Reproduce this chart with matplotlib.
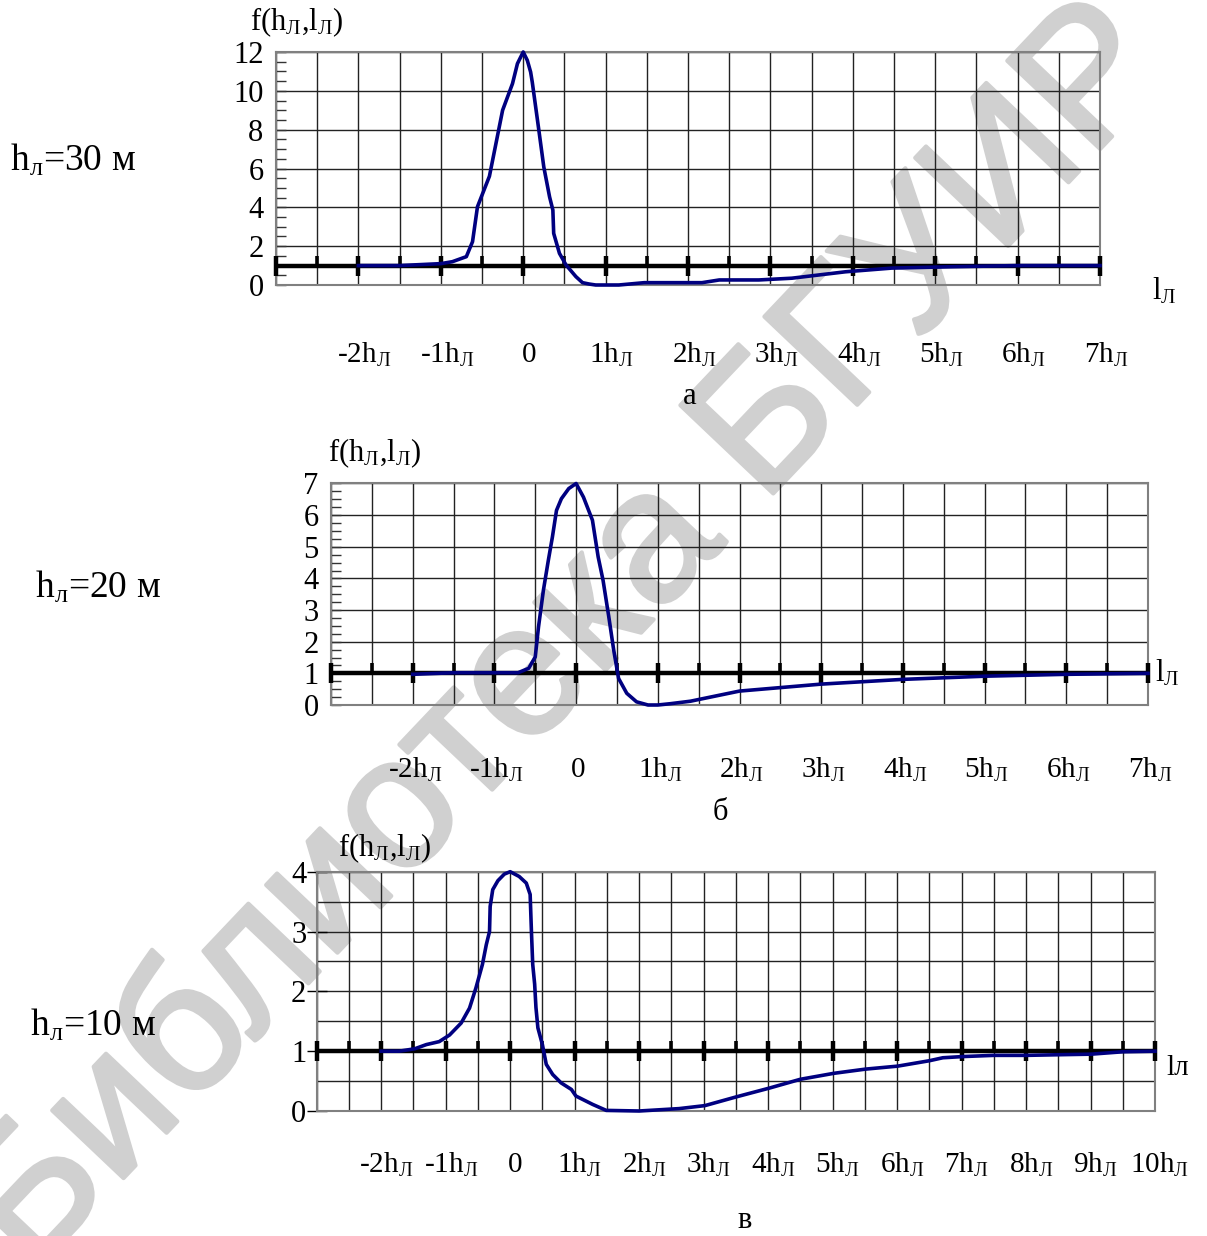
import numpy as np
import matplotlib.pyplot as plt
import matplotlib.patheffects as pe
from matplotlib.path import Path
from matplotlib.transforms import blended_transform_factory, offset_copy

plt.rcParams['font.family'] = ['Liberation Serif', 'DejaVu Serif']
plt.rcParams['mathtext.fontset'] = 'custom'
plt.rcParams['mathtext.rm'] = 'Liberation Serif'
plt.rcParams['mathtext.it'] = 'Liberation Serif:italic'
plt.rcParams['mathtext.bf'] = 'Liberation Serif:bold'

x_a = [-2, -1.5, -1, -0.86, -0.69, -0.615, -0.555, -0.41, -0.25, -0.13, -0.07, 0,
       0.05, 0.09, 0.11, 0.19, 0.25, 0.32, 0.36, 0.37, 0.44, 0.52, 0.64, 0.72, 0.8,
       0.88, 1.16, 1.47, 2.17, 2.38, 2.86, 3.26, 3.91, 4.47, 5.2, 6.0, 7.0]
y_a = [1.0, 1.0, 1.1, 1.2, 1.46, 2.23, 4.03, 5.6, 9.0, 10.37, 11.4, 12.0,
       11.57, 10.97, 10.45, 7.97, 6.08, 4.54, 3.86, 2.66, 1.63, 1.03, 0.43, 0.12, 0.05,
       0.0, 0.0, 0.12, 0.12, 0.26, 0.26, 0.35, 0.68, 0.87, 0.94, 1.0, 1.0]

x_b = [-2, -1.5, -0.71, -0.58, -0.5, -0.46, -0.40, -0.34, -0.29, -0.24, -0.18, -0.09, 0,
       0.09, 0.2, 0.27, 0.33, 0.40, 0.46, 0.52, 0.62, 0.74, 0.88, 1.0, 1.15, 1.4,
       2.0, 3.0, 4.0, 5.0, 6.0, 7.0]
y_b = [0.97, 1.02, 1.02, 1.16, 1.52, 2.47, 3.63, 4.57, 5.31, 6.15, 6.52, 6.84, 7.0,
       6.57, 5.84, 4.68, 3.94, 2.79, 1.74, 0.84, 0.37, 0.10, 0.0, 0.0, 0.04, 0.12,
       0.44, 0.66, 0.81, 0.91, 0.97, 1.0]

x_c = [-2, -1.72, -1.48, -1.30, -1.10, -0.94, -0.76, -0.63, -0.53, -0.43, -0.37, -0.32,
       -0.31, -0.27, -0.19, -0.09, 0, 0.14, 0.25, 0.31, 0.33, 0.35, 0.38, 0.40, 0.43,
       0.50, 0.56, 0.66, 0.79, 0.95, 1.02, 1.28, 1.49, 2.0, 2.62, 3.02, 3.52, 4.01, 4.5,
       5.02, 5.51, 6.01, 6.5, 6.71, 7.02, 7.5, 8.0, 8.48, 9.01, 9.5, 10.0]
y_c = [1.0, 1.0, 1.04, 1.11, 1.16, 1.27, 1.47, 1.72, 2.06, 2.45, 2.78, 3.0,
       3.42, 3.70, 3.85, 3.96, 4.0, 3.92, 3.81, 3.62, 3.0, 2.45, 2.12, 1.73, 1.39,
       1.11, 0.78, 0.61, 0.47, 0.36, 0.25, 0.11, 0.01, 0.0, 0.04, 0.09, 0.24, 0.38, 0.53,
       0.63, 0.70, 0.75, 0.84, 0.89, 0.91, 0.93, 0.93, 0.94, 0.95, 0.99, 1.0]

ticks_ab = [-2, -1, 0, 1, 2, 3, 4, 5, 6, 7]
ticks_c = [-2, -1, 0, 1, 2, 3, 4, 5, 6, 7, 8, 9, 10]
heights = ["30", "20", "10"]
letters = ["а", "б", "в"]

W, H = 1207, 1236
SUB = r"$_{\mathrm{Л}}$"
CURVE = "#000080"

fig = plt.figure(figsize=(W / 100, H / 100), dpi=100)


def px_axes(l, t, r, b):
    return fig.add_axes([l / W, 1 - b / H, (r - l) / W, (b - t) / H])


def ftext(x, y, s, **kw):
    kw.setdefault("va", "center")
    fig.text(x / W, 1 - y / H, s, **kw)


def hl_label(v):
    return "0" if v == 0 else f"{v}h{SUB}"


def setup(ax, xmin, xmax, ymax, ymajor, ygrid, yminor, ystyle):
    ax.set_facecolor("none")
    ax.set_xlim(xmin, xmax)
    ax.set_ylim(0, ymax)
    ax.set_xticks(np.arange(xmin, xmax + 0.01, 0.5))
    ax.tick_params(axis="x", length=0, labelbottom=False)
    ax.set_yticks(np.arange(0, ymax + 0.01, ymajor))
    ax.set_yticks(np.arange(0, ymax + 0.01, ygrid), minor=True)
    ax.grid(True, which="both", axis="y", color="#222222", lw=1.0)
    ax.grid(True, which="major", axis="x", color="#222222", lw=1.0)
    if ystyle == "in":
        ax.set_yticks(np.arange(0, ymax + 0.01, yminor), minor=True)
        ax.grid(False, which="minor", axis="y")
        ax.tick_params(axis="y", which="both", direction="in", length=7,
                       width=1, color="#333333", pad=9, labelsize=22)
    else:
        ax.tick_params(axis="y", which="major", direction="inout", length=15,
                       width=1, color="black", pad=0, labelsize=22)
        ax.tick_params(axis="y", which="minor", length=0)
    for sp in ax.spines.values():
        sp.set_color("#808080")
        sp.set_linewidth(1.5)
    # толстая ось y=1 с делениями
    ax.axhline(1, color="black", lw=3.2, zorder=3)
    big = np.arange(xmin, xmax + 0.01, 1.0)
    small = big[:-1] + 0.5
    ax.plot(big, np.ones_like(big), ls="none", marker="|", ms=15, mew=3.2,
            color="black", zorder=4, clip_on=False)
    ax.plot(small, np.ones_like(small), ls="none",
            marker=Path([(0, -0.2), (0, 1)]), ms=14, mew=2.6,
            color="black", zorder=4, clip_on=False)


def xlabels(ax, ticks, dy, dx=5, size=21):
    tr = offset_copy(blended_transform_factory(ax.transData, ax.transAxes),
                     fig=fig, x=dx, y=-dy, units="dots")
    for v in ticks:
        ax.text(v, 0, hl_label(v), transform=tr, ha="center", va="center",
                fontsize=size)


# а
ax1 = px_axes(276, 52, 1100, 285)
setup(ax1, -3, 7, 12, 2, 2, 0.5, "in")
ax1.plot(x_a, y_a, color=CURVE, lw=2.6, zorder=5, clip_on=False)
xlabels(ax1, ticks_ab, 70, dx=6)

# б
ax2 = px_axes(331, 483.5, 1148, 705)
setup(ax2, -3, 7, 7, 1, 1, 0.25, "in")
ax2.plot(x_b, y_b, color=CURVE, lw=2.6, zorder=5, clip_on=False)
xlabels(ax2, ticks_ab, 65, dx=2)

# в
ax3 = px_axes(316.7, 871.7, 1155, 1111)
setup(ax3, -3, 10, 4, 1, 0.5, 0.5, "inout")
ax3.plot(x_c, y_c, color=CURVE, lw=2.6, zorder=5, clip_on=False)
xlabels(ax3, ticks_c, 54, dx=5)

# подписи
fl = f"f(h{SUB},l{SUB})"
ftext(250, 22, fl, fontsize=22)
ftext(328, 453, fl, fontsize=22)
ftext(338, 848, fl, fontsize=22)

ftext(1152, 291, f"l{SUB}", fontsize=22)
ftext(1155, 673, f"l{SUB}", fontsize=22)
ftext(1166, 1068, "lл", fontsize=21)

for (x, y), h in zip([(10, 160), (35, 587), (30, 1025)], heights):
    ftext(x, y, f"h$_{{\\mathrm{{л}}}}$={h} м", fontsize=27)

for (x, y), s in zip([(690, 396), (720, 813), (745, 1220)], letters):
    ftext(x, y, s, fontsize=22, ha="center")

# водяной знак
fig.text(568 / W, 1 - 640 / H, "Библиотека БГУИР", rotation=46.5, fontsize=134,
         color="#d0d0d0", family="Liberation Sans",
         ha="center", va="center", rotation_mode="anchor", zorder=-1,
         path_effects=[pe.withStroke(linewidth=3, foreground="#d0d0d0")])

fig.savefig("out.png", dpi=100, facecolor="white")
